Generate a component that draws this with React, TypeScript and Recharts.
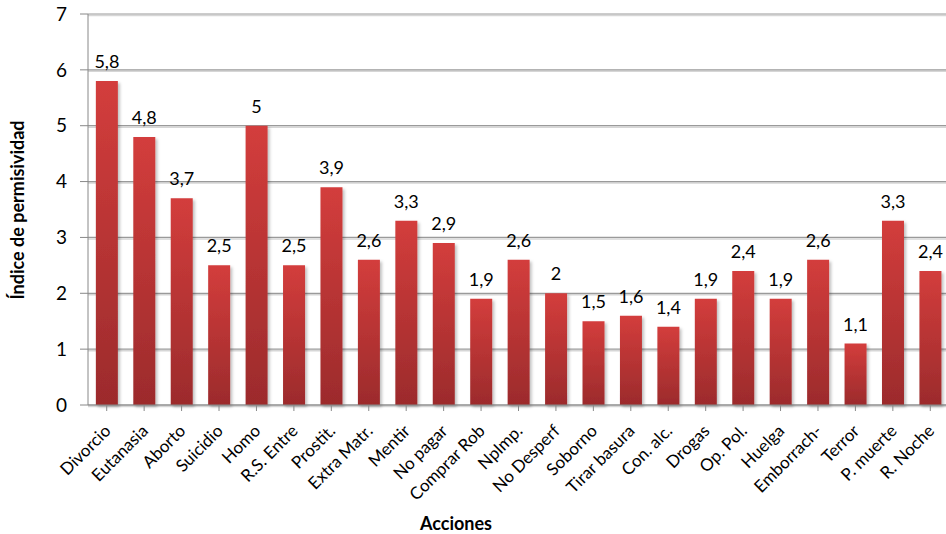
import { Bar, BarChart, CartesianGrid, LabelList, XAxis, YAxis } from 'recharts';

const acciones = [
  'Divorcio', 'Eutanasia', 'Aborto', 'Suicidio', 'Homo', 'R.S. Entre', 'Prostit.',
  'Extra Matr.', 'Mentir', 'No pagar', 'Comprar Rob', 'NpImp.', 'No Desperf',
  'Soborno', 'Tirar basura', 'Con. alc.', 'Drogas', 'Op. Pol.', 'Huelga',
  'Emborrach-', 'Terror', 'P. muerte', 'R. Noche',
];
const indice = [
  5.8, 4.8, 3.7, 2.5, 5, 2.5, 3.9, 2.6, 3.3, 2.9, 1.9, 2.6, 2,
  1.5, 1.6, 1.4, 1.9, 2.4, 1.9, 2.6, 1.1, 3.3, 2.4,
];
const yTicks = [0, 1, 2, 3, 4, 5, 6, 7];

const data = acciones.map((name, i) => ({ name, value: indice[i] }));

const FONT = 'Lato, "Open Sans", sans-serif';

const fmt = (v: number) => String(v).replace('.', ',');

const CategoryTick = ({ x, y, payload }: any) => (
  <text
    x={x + 5}
    y={y + 19}
    transform={`rotate(-45 ${x + 5} ${y + 19})`}
    textAnchor="end"
    fontSize={17}
    fontFamily={FONT}
    fill="#000"
  >
    {payload.value}
  </text>
);

// gridline with a soft shadow beneath it
const GridLine = ({ x1, y1, x2, y2 }: any) => (
  <g>
    <line x1={x1} y1={y1 + 1.5} x2={x2} y2={y2 + 1.5} stroke="#d6d6d6" strokeWidth={1.5} />
    <line x1={x1} y1={y1} x2={x2} y2={y2} stroke="#9a9a9a" strokeWidth={1.2} />
  </g>
);

export default function App() {
  return (
    <div
      style={{
        position: 'fixed',
        left: 0,
        top: 0,
        width: 946,
        height: 534,
        overflow: 'hidden',
        background: '#fff',
      }}
    >
      <BarChart
        width={960}
        height={534}
        data={data}
        margin={{ top: 14, right: 11, left: 0, bottom: 0 }}
        barCategoryGap="21%"
      >
        <defs>
          <linearGradient id="barFill" x1="0" y1="0" x2="0" y2="1">
            <stop offset="0%" stopColor="#d33d3c" />
            <stop offset="100%" stopColor="#9c2b2c" />
          </linearGradient>
          <filter id="barShadow" x="-20%" y="-5%" width="150%" height="115%">
            <feDropShadow dx={2} dy={2} stdDeviation={1.5} floodColor="#000" floodOpacity={0.25} />
          </filter>
        </defs>
        <CartesianGrid vertical={false} horizontal={(p: any) => <GridLine key={p.key} {...p} />} />
        <XAxis
          dataKey="name"
          height={129}
          interval={0}
          tick={<CategoryTick />}
          tickSize={6}
          axisLine={{ stroke: '#888' }}
          tickLine={{ stroke: '#888' }}
          label={{
            content: () => (
              <text
                x={456}
                y={530}
                textAnchor="middle"
                fontSize={18}
                fontWeight="bold"
                fontFamily={FONT}
                fill="#000"
              >
                Acciones
              </text>
            ),
          }}
        />
        <YAxis
          width={88}
          domain={[0, 7]}
          ticks={yTicks}
          interval={0}
          tickSize={8}
          tickMargin={13}
          axisLine={{ stroke: '#888' }}
          tickLine={{ stroke: '#888' }}
          tick={{ fontSize: 19, fontFamily: FONT, fill: '#000' }}
          label={{
            content: () => (
              <text
                x={0}
                y={0}
                transform="translate(24 210) rotate(-90)"
                textAnchor="middle"
                fontSize={18}
                fontWeight="bold"
                fontFamily={FONT}
                fill="#000"
              >
                Índice de permisividad
              </text>
            ),
          }}
        />
        <Bar dataKey="value" fill="url(#barFill)" filter="url(#barShadow)" isAnimationActive={false}>
          <LabelList
            dataKey="value"
            position="top"
            offset={13}
            formatter={(v: any) => fmt(v)}
            style={{ fontSize: 18, fontFamily: FONT, fill: '#000' }}
          />
        </Bar>
      </BarChart>
    </div>
  );
}
